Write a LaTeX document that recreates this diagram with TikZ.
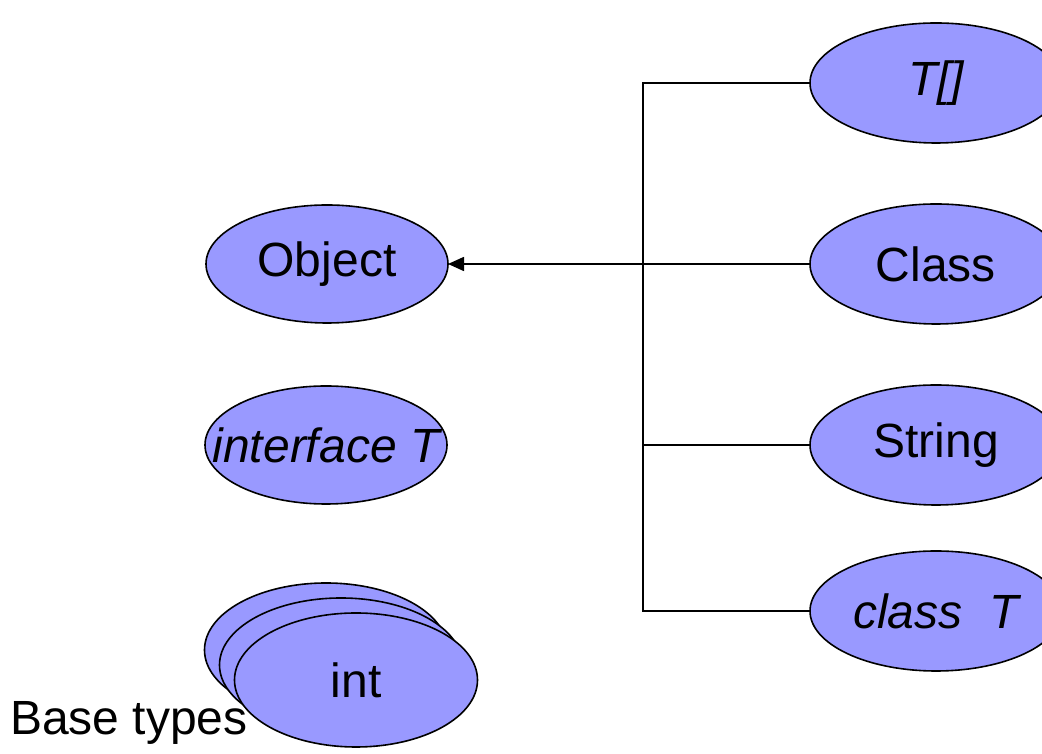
\documentclass[tikz,border=0pt]{standalone}
\usepackage{fontspec}
\setmainfont{Liberation Sans}
\usetikzlibrary{shapes.geometric,arrows.meta}
\definecolor{typefill}{RGB}{153,153,255}
\tikzset{
  typenode/.style={ellipse, draw=black, line width=1.6pt, fill=typefill,
    inner sep=0pt, outer sep=0pt, minimum width=242pt, minimum height=118pt,
    font=\fontsize{48}{56}\selectfont},
  rightnode/.style={typenode, minimum width=252pt, minimum height=120pt},
  link/.style={line width=1.6pt},
}
\newcommand{\tlabel}[1]{\makebox[0pt]{#1}}
\begin{document}
\begin{tikzpicture}[x=1pt,y=1pt]
\useasboundingbox (0,0) rectangle (1042,754);

% reference types on the right
\node[rightnode] (tarr)   at (936,671) {\tlabel{\itshape T[]}};
\node[rightnode] (class)  at (936,490) {\tlabel{Class}};
\node[rightnode] (string) at (936,309) {\tlabel{String}};
\node[rightnode] (classT) at (936,143) {\tlabel{\itshape class~~T}};

% left column
\node[typenode] (object) at (327,490) {\tlabel{Object}};
\node[typenode] (iface)  at (326,309) {\tlabel{\itshape interface T}};

% stacked base types
\node[typenode, minimum width=243pt, minimum height=134pt] (int3) at (326,104) {};
\node[typenode, minimum width=243pt, minimum height=134pt] (int2) at (341,89) {};
\node[typenode, minimum width=243pt, minimum height=134pt] (int1) at (356,74) {\tlabel{int}};

% connector bus
\coordinate (busTop) at (643,671);
\coordinate (busStr) at (643,309);
\coordinate (busBot) at (643,143);
\draw[link] (tarr.west) -- (busTop) -- (busBot) -- (classT.west);
\draw[link] (busStr) -- (string.west);
\draw[link, -{Triangle[length=16pt,width=14pt]}] (class.west) -- (object.east);

\node[anchor=base west, font=\fontsize{48}{56}\selectfont, inner sep=0pt] (base) at (10,19) {Base types};
\end{tikzpicture}
\end{document}
